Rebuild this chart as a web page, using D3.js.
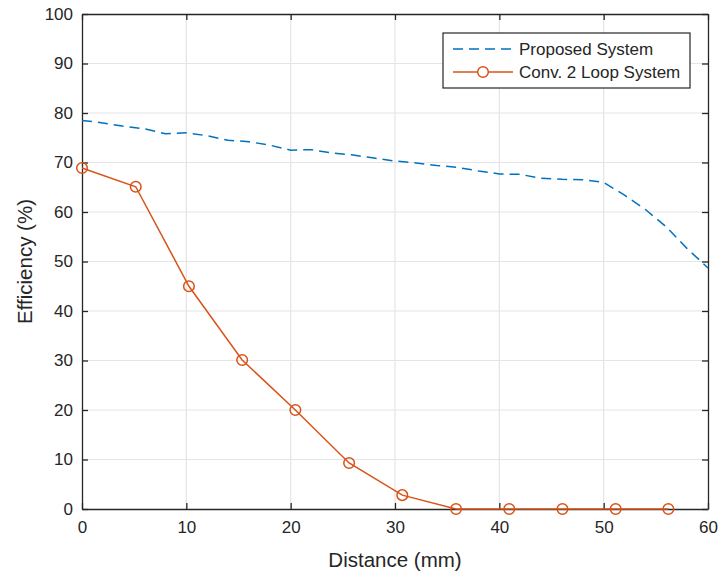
<!DOCTYPE html>
<html lang='en'>
<head>
    <meta charset='UTF-8'>
    <title>Efficiency vs Distance</title>
    <script src='https://d3js.org/d3.v7.min.js' charset='utf-8'></script>
    <style>
        body { margin: 0; background: #fff; font-family: 'Liberation Sans', Arial, sans-serif; }
        text { fill: #262626; }
    </style>
</head>
<body>
    <div id='chart'></div>
    <script>
        'use strict';

        // proposed system (dashed blue)
        const proposedX = [0, 2, 4, 6, 8, 10, 12, 14, 16, 18, 20, 22, 24, 26, 28, 30, 32, 34, 36, 38, 40, 42, 44, 46, 48, 50, 52, 54, 56, 58, 60];
        const proposedY = [78.5, 78.0, 77.3, 76.8, 75.8, 76.0, 75.4, 74.5, 74.2, 73.5, 72.5, 72.6, 71.9, 71.5, 70.9, 70.3, 69.9, 69.4, 69.0, 68.3, 67.7, 67.6, 66.8, 66.6, 66.5, 66.0, 63.4, 60.5, 57.0, 52.6, 48.7];

        // conventional 2 loop system (orange with circles)
        const convX = [0, 5.15, 10.25, 15.35, 20.45, 25.6, 30.7, 35.85, 40.95, 46.05, 51.15, 56.2];
        const convY = [68.9, 65.1, 45.0, 30.1, 20.0, 9.3, 2.8, 0, 0, 0, 0, 0];

        const xTicks = [0, 10, 20, 30, 40, 50, 60];
        const yTicks = [0, 10, 20, 30, 40, 50, 60, 70, 80, 90, 100];
        const seriesNames = ['Proposed System', 'Conv. 2 Loop System'];

        const W = 721, H = 572;
        const margin = { top: 14, right: 13, bottom: 63, left: 82 },
            width = W - margin.left - margin.right,
            height = H - margin.top - margin.bottom;

        const blue = '#0072BD', orange = '#D95319', axisColor = '#262626';

        const svg = d3.select('#chart')
            .append('svg')
            .attr('width', W)
            .attr('height', H)
            .append('g')
            .attr('transform', `translate(${margin.left}, ${margin.top})`);

        const x = d3.scaleLinear().domain([0, 60]).range([0, width]);
        const y = d3.scaleLinear().domain([0, 100]).range([height, 0]);

        // grid
        svg.append('g').selectAll('line')
            .data(xTicks.slice(1, -1))
            .enter().append('line')
            .attr('x1', d => x(d)).attr('x2', d => x(d))
            .attr('y1', 0).attr('y2', height)
            .attr('stroke', '#e5e5e5').attr('stroke-width', 1.2);
        svg.append('g').selectAll('line')
            .data(yTicks.slice(1, -1))
            .enter().append('line')
            .attr('x1', 0).attr('x2', width)
            .attr('y1', d => y(d)).attr('y2', d => y(d))
            .attr('stroke', '#e5e5e5').attr('stroke-width', 1.2);

        // axes (box with ticks on all sides)
        const xAxis = svg.append('g')
            .attr('transform', `translate(0, ${height})`)
            .call(d3.axisBottom(x).tickValues(xTicks).tickSizeInner(-6).tickSizeOuter(0).tickPadding(12));
        const xTop = svg.append('g')
            .call(d3.axisTop(x).tickValues(xTicks).tickSizeInner(-6).tickSizeOuter(0).tickFormat(''));
        const yAxis = svg.append('g')
            .call(d3.axisLeft(y).tickValues(yTicks).tickSizeInner(-6).tickSizeOuter(0).tickPadding(9));
        const yRight = svg.append('g')
            .attr('transform', `translate(${width}, 0)`)
            .call(d3.axisRight(y).tickValues(yTicks).tickSizeInner(-6).tickSizeOuter(0).tickFormat(''));

        [xAxis, xTop, yAxis, yRight].forEach(a => {
            a.select('.domain').attr('stroke', axisColor).attr('stroke-width', 1.3);
            a.selectAll('.tick line').attr('stroke', axisColor).attr('stroke-width', 1.3);
            a.selectAll('.tick text')
                .attr('font-family', "'Liberation Sans', Arial, sans-serif")
                .attr('font-size', 17)
                .attr('fill', axisColor);
        });

        // axis labels
        svg.append('text')
            .attr('x', width / 2)
            .attr('y', height + 58)
            .attr('text-anchor', 'middle')
            .attr('font-size', 20.5)
            .text('Distance (mm)');
        svg.append('text')
            .attr('transform', `translate(${-50}, ${height / 2}) rotate(-90)`)
            .attr('text-anchor', 'middle')
            .attr('font-size', 20.5)
            .text('Efficiency (%)');

        // series
        const proposed = proposedX.map((d, i) => ({ x: d, y: proposedY[i] }));
        const conv = convX.map((d, i) => ({ x: d, y: convY[i] }));

        const line = d3.line().x(d => x(d.x)).y(d => y(d.y));

        svg.append('path')
            .datum(proposed)
            .attr('d', line)
            .attr('fill', 'none')
            .attr('stroke', blue)
            .attr('stroke-width', 1.5)
            .attr('stroke-dasharray', '10,6');

        svg.append('path')
            .datum(conv)
            .attr('d', line)
            .attr('fill', 'none')
            .attr('stroke', orange)
            .attr('stroke-width', 1.5);

        svg.selectAll('circle.conv')
            .data(conv)
            .enter().append('circle')
            .attr('class', 'conv')
            .attr('cx', d => x(d.x))
            .attr('cy', d => y(d.y))
            .attr('r', 5.3)
            .attr('fill', 'none')
            .attr('stroke', orange)
            .attr('stroke-width', 1.5);

        // legend
        const lg = svg.append('g').attr('transform', `translate(${443 - margin.left}, ${33 - margin.top})`);
        lg.append('rect')
            .attr('width', 247).attr('height', 55)
            .attr('fill', '#fff')
            .attr('stroke', axisColor).attr('stroke-width', 1.2);
        const items = lg.selectAll('g.item')
            .data(seriesNames)
            .enter().append('g')
            .attr('transform', (d, i) => `translate(0, ${16 + i * 23})`);
        items.append('line')
            .attr('x1', 10).attr('x2', 70)
            .attr('y1', 0).attr('y2', 0)
            .attr('stroke', (d, i) => i === 0 ? blue : orange)
            .attr('stroke-width', 1.5)
            .attr('stroke-dasharray', (d, i) => i === 0 ? '10,6' : null);
        items.filter((d, i) => i === 1).append('circle')
            .attr('cx', 40).attr('cy', 0).attr('r', 5.3)
            .attr('fill', '#fff')
            .attr('stroke', orange).attr('stroke-width', 1.5);
        items.append('text')
            .attr('x', 76)
            .attr('y', 6)
            .attr('font-size', 17)
            .text(d => d);
    </script>
</body>
</html>
